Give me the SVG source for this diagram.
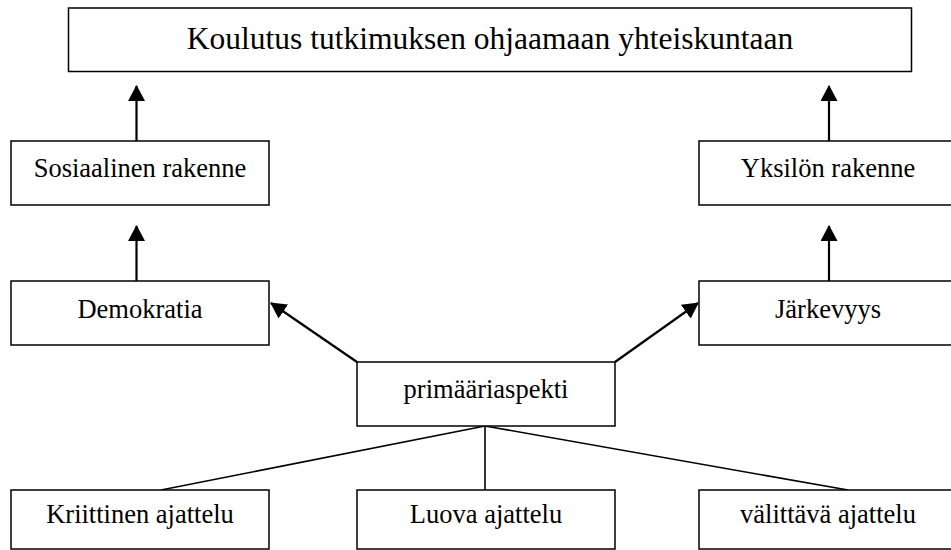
<svg xmlns="http://www.w3.org/2000/svg" width="951" height="550" viewBox="0 0 951 550">
<style>
.box{fill:#fff;stroke:#000;stroke-width:1.5}
.lbl{font-family:"Liberation Serif","Times New Roman",serif;font-size:26.5px;fill:#000;text-anchor:middle}
.title{font-size:31.5px}
.arr{stroke:#000;stroke-width:2.2;fill:none;marker-end:url(#ah)}
.ln{stroke:#000;stroke-width:1.6;fill:none}
</style>
<defs>
<marker id="ah" viewBox="0 0 16 17" refX="15" refY="8.5" markerWidth="16" markerHeight="17" markerUnits="userSpaceOnUse" orient="auto">
<path d="M0,0 L16,8.5 L0,17 z" fill="#000"/>
</marker>
</defs>
<rect width="951" height="550" fill="#fff"/>
<g id="connectors">
<line class="arr" x1="136.5" y1="141" x2="136.5" y2="86"/>
<line class="arr" x1="829" y1="141" x2="829" y2="86"/>
<line class="arr" x1="136.5" y1="281" x2="136.5" y2="226"/>
<line class="arr" x1="829" y1="281" x2="829" y2="226"/>
<line class="arr" x1="357" y1="362" x2="271" y2="303"/>
<line class="arr" x1="615" y1="362" x2="698" y2="303"/>
<line class="ln" x1="485" y1="426" x2="161" y2="490"/>
<line class="ln" x1="485" y1="426" x2="485" y2="490"/>
<line class="ln" x1="485" y1="426" x2="848" y2="490"/>
</g>
<g id="title">
<rect class="box" x="68.5" y="8" width="843" height="63.5"/>
<text class="lbl title" x="490" y="49">Koulutus tutkimuksen ohjaamaan yhteiskuntaan</text>
</g>
<g id="sosiaalinen">
<rect class="box" x="11" y="141" width="258" height="64"/>
<text class="lbl" x="140" y="177">Sosiaalinen rakenne</text>
</g>
<g id="yksilon">
<rect class="box" x="699" y="141" width="258" height="64"/>
<text class="lbl" x="828" y="177">Yksilön rakenne</text>
</g>
<g id="demokratia">
<rect class="box" x="11" y="281" width="258" height="64"/>
<text class="lbl" x="140" y="318">Demokratia</text>
</g>
<g id="jarkevyys">
<rect class="box" x="699" y="281" width="258" height="64"/>
<text class="lbl" x="828" y="318">Järkevyys</text>
</g>
<g id="primaari">
<rect class="box" x="357" y="362" width="258" height="64"/>
<text class="lbl" x="486" y="398">primääriaspekti</text>
</g>
<g id="kriittinen">
<rect class="box" x="11" y="490" width="258" height="59"/>
<text class="lbl" x="140" y="523">Kriittinen ajattelu</text>
</g>
<g id="luova">
<rect class="box" x="357" y="490" width="258" height="59"/>
<text class="lbl" x="486" y="523">Luova ajattelu</text>
</g>
<g id="valittava">
<rect class="box" x="699" y="490" width="258" height="59"/>
<text class="lbl" x="828" y="523">välittävä ajattelu</text>
</g>
</svg>
